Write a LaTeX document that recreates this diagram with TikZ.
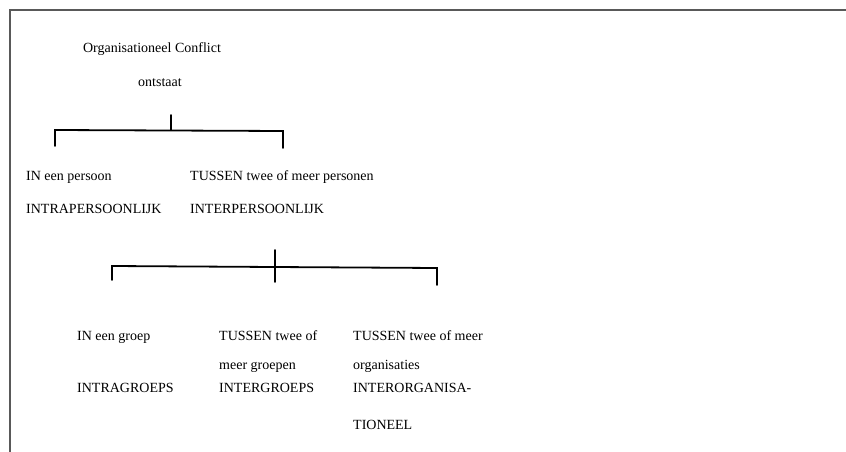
\documentclass[tikz,border=0pt]{standalone}
\usepackage{fontspec}
\setmainfont{Liberation Serif}
\usepackage{tikz}

\begin{document}
\begin{tikzpicture}[x=1pt,y=-1pt,
    every node/.style={inner sep=0pt,font=\fontsize{14}{16}\selectfont},
    tekst/.style={anchor=base west},
    haak/.style={line width=1.8pt,line cap=round}]
    \useasboundingbox (0,0) rectangle (846,452);
    \draw[line width=1.8pt,black!65] (846,10) -- (10,10) -- (10,452);
    \node[anchor=base] (org) at (152,53) {Organisationeel Conflict};
    \node[anchor=base] (ontstaat) at (160,86) {ontstaat};
    \coordinate (top1) at (171,115);
    \coordinate (mid1) at (171,130);
    \coordinate (links1) at (55,130);
    \coordinate (links1b) at (55,146);
    \coordinate (rechts1) at (283,131);
    \coordinate (rechts1b) at (283,148);
    \draw[haak] (links1b) -- (links1) -- (rechts1) -- (rechts1b);
    \draw[haak] (top1) -- (mid1);
    \node[tekst] (inpersoon) at (26,180) {IN een persoon};
    \node[tekst] (intrapers) at (26,213) {INTRAPERSOONLIJK};
    \node[tekst] (tussenpers) at (190,180) {TUSSEN twee of meer personen};
    \node[tekst] (interpers) at (190,213) {INTERPERSOONLIJK};
    \coordinate (top2) at (275,250);
    \coordinate (bot2) at (275,282);
    \coordinate (links2) at (112,266);
    \coordinate (links2b) at (112,280);
    \coordinate (rechts2) at (437,268);
    \coordinate (rechts2b) at (437,285);
    \draw[haak] (links2b) -- (links2) -- (rechts2) -- (rechts2b);
    \draw[haak] (top2) -- (bot2);
    \node[tekst] (ingroep) at (77,340) {IN een groep};
    \node[tekst] (intragroep) at (77,392) {INTRAGROEPS};
    \node[tekst] (tussengr) at (219,340) {TUSSEN twee of};
    \node[tekst] (meergr) at (219,369) {meer groepen};
    \node[tekst] (intergroep) at (219,392) {INTERGROEPS};
    \node[tekst] (tussenorg) at (353,340) {TUSSEN twee of meer};
    \node[tekst] (organisaties) at (353,369) {organisaties};
    \node[tekst] (interorg) at (353,392) {INTERORGANISA-};
    \node[tekst] (tioneel) at (353,429) {TIONEEL};
\end{tikzpicture}
\end{document}
